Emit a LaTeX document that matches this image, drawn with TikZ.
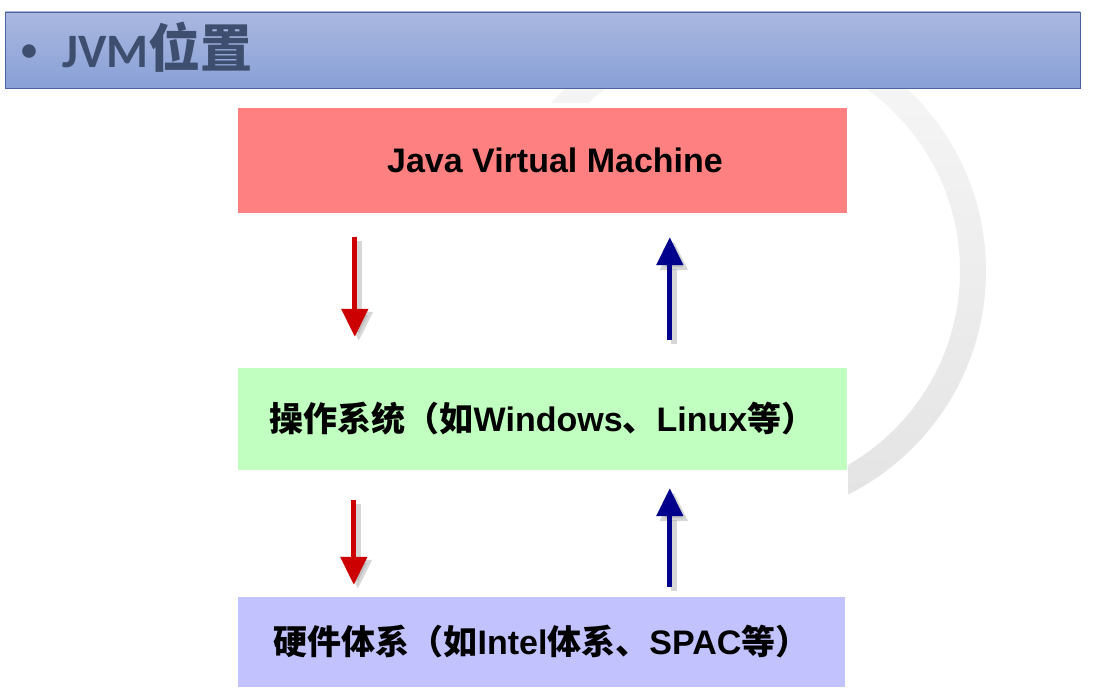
\documentclass[tikz,border=0pt]{standalone}
\usepackage{fontspec}
\setmainfont{Liberation Sans}
\newfontfamily\zhfont{Noto Sans CJK SC}
\newfontfamily\carlito{Carlito}
\usepackage{tikz}
\usetikzlibrary{positioning}
\usetikzlibrary{calc}
\usetikzlibrary{arrows.meta}
\definecolor{jvmred}{RGB}{255,128,128}
\definecolor{osgreen}{RGB}{192,255,192}
\definecolor{hwpurple}{RGB}{194,194,255}
\definecolor{downred}{RGB}{204,0,0}
\definecolor{upblue}{RGB}{0,0,140}
\definecolor{bartop}{RGB}{170,184,224}
\definecolor{barbottom}{RGB}{136,160,214}
\definecolor{barline}{RGB}{72,100,156}
\definecolor{titleink}{RGB}{62,78,110}
\newcommand{\zh}[1]{{\zhfont #1}}

\begin{document}
\begin{tikzpicture}[x=1pt, y=-1pt,
  layer/.style={minimum width=609pt, inner sep=0pt, font=\fontsize{34}{40}\selectfont\bfseries},
  down/.style={downred, line width=5pt, -{Triangle[width=26pt,length=28pt]}},
  up/.style={upblue, line width=5pt, -{Triangle[width=26pt,length=28pt]}},
  shadow/.style={black!35, opacity=0.45, line width=6pt, -{Triangle[width=27pt,length=29pt]},
    transform canvas={shift={(4pt,-4pt)}}}]
\useasboundingbox (0,0) rectangle (1108,690);
\fill[white] (0,0) rectangle (1108,690);

%
\shade[top color=black!3, bottom color=black!11, even odd rule]
  (736,271) circle[radius=250pt] circle[radius=224pt];
\fill[white] (238,103) rectangle (848,690);

%
\node[draw=barline, top color=bartop, bottom color=barbottom, minimum width=1075pt,
  minimum height=76pt, inner sep=0pt] (bar) at (542.5,50) {};
\node[anchor=base west, text=titleink, inner sep=0pt,
  font=\fontsize{48}{50}\selectfont\bfseries] (title) at (21,68)
  {\raisebox{7pt}{\carlito\fontsize{32}{32}\selectfont •}\hspace{25pt}{\carlito JVM}\zh{\fontsize{52}{54}\selectfont 位置}};

%
\node[layer, fill=jvmred, minimum height=105pt] (jvm) at (542.5,160.5) {\hspace*{25pt}Java Virtual Machine};
\node[layer, fill=osgreen, minimum height=102pt] (os) at (542.5,419) {\zh{操作系统（如}Windows\zh{、}Linux\zh{等）}};
\node[layer, fill=hwpurple, minimum height=90pt, minimum width=607pt] (hw) at (541.5,642) {\zh{硬件体系（如}Intel\zh{体系、}SPAC\zh{等）}};

%
\coordinate (r1a) at ($(jvm.south west)+(117,24)$);
\coordinate (r1b) at ($(os.north west)+(117,-31)$);
\coordinate (b1a) at ($(os.north west)+(432,-28)$);
\coordinate (b1b) at ($(jvm.south west)+(432,24)$);
\coordinate (r2a) at ($(os.south west)+(116,30)$);
\coordinate (r2b) at ($(hw.north west)+(116,-12)$);
\coordinate (b2a) at ($(hw.north west)+(432,-10)$);
\coordinate (b2b) at ($(os.south west)+(432,18)$);

\foreach \a/\b/\s in {r1a/r1b/down, b1a/b1b/up, r2a/r2b/down, b2a/b2b/up}{
  \draw[shadow] (\a) -- (\b);
  \draw[\s] (\a) -- (\b);
}

\end{tikzpicture}
\end{document}
